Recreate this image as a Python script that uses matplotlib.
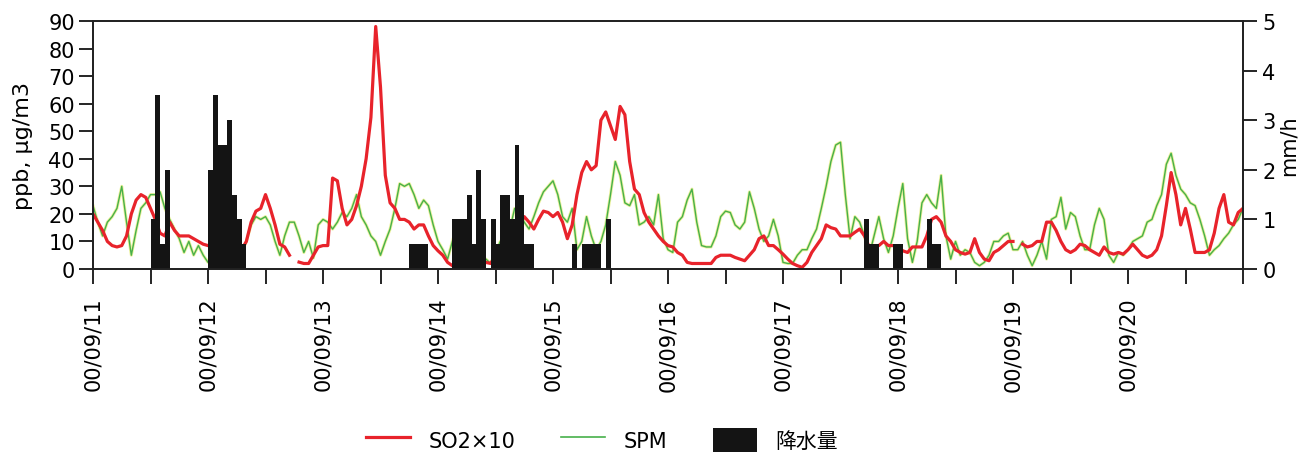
import numpy as np
import matplotlib.pyplot as plt
from matplotlib.lines import Line2D
from matplotlib.patches import Patch

plt.rcParams['font.family'] = ['DejaVu Sans', 'Noto Sans CJK JP']

nan = np.nan

# hourly SO2 (x10, ppb) from 00/09/11 00:00 to 00/09/21 00:00
so2_x10 = [
    20, 17, 14, 10, 8.5, 8, 8.5, 12, 20, 25,
    27, 26, 22, 18, 13, 12, 17, 14, 12, 12,
    12, 11, 10, 9, 8.5, 8, 8, 8, 4, 5,
    6, 7, 10, 17, 21, 22, 27, 22, 16, 9,
    8, 5, nan, 2.5, 2, 2, 5, 8, 8.5, 8.5,
    33, 32, 22, 16, 18, 23, 30, 40, 55, 88,
    66, 34, 24, 22, 18, 18, 17, 14.5, 16, 16,
    12, 8.5, 6.6, 5, 2.4, 1.2, 1.2, 2, 2.4, 3,
    2.4, 1.2, 2.4, 2, 5, 7, 9, 10, 12, 16,
    19, 17, 14.5, 18, 21, 20.5, 19, 20.5, 17, 11,
    16, 27, 35, 39, 36, 37.5, 54, 57, 52, 47,
    59, 56, 39, 29, 27, 20.5, 17, 14.5, 12, 10,
    8.5, 8, 6, 5, 2.4, 2, 2, 2, 2, 2,
    4.2, 5, 5, 5, 4.2, 3.6, 3, 5, 7, 11,
    12, 8.5, 8.5, 7, 5.4, 3.6, 2, 1.2, 0.6, 2.4,
    6, 8.5, 11, 16, 15, 14.5, 12, 12, 12, 13.3,
    14.5, 12, 8, 8.5, 8.5, 10, 8.5, 8.5, 8, 6.6,
    6, 8, 8, 8, 12, 18, 19, 17, 12, 10,
    7, 6, 5.4, 6, 11, 6, 3.6, 3, 6, 7,
    8.5, 10, 10, nan, 9, 8, 8.5, 10, 10, 17,
    17, 14, 10, 7, 6, 7, 9, 8.5, 7, 6,
    5, 8, 6, 5.4, 6, 5.4, 7, 9, 7, 5,
    4.2, 5, 7, 12, 23, 35, 27, 16, 22, 14.5,
    6, 6, 6, 7, 13, 22, 27, 17, 16, 20.5,
    22,
]

# hourly SPM (ug/m3)
spm = [
    23, 17, 12, 17, 19, 22, 30, 17, 5, 14,
    22, 24, 27, 27, 28, 22, 18, 14.5, 11, 6,
    10, 5, 8.5, 5, 2.4, 7, 3, 2, 3, 5,
    4, 6, 10, 16, 19, 18, 19, 16, 10, 5,
    12, 17, 17, 12, 6, 10, 4, 16, 18, 17,
    14.5, 17, 20.5, 19, 22, 27, 19, 16, 12, 10,
    5, 10, 14.5, 22, 31, 30, 31, 27, 22, 25,
    23, 16, 10, 7, 3.6, 10, 16, 10, 5, 2,
    5, 4, 3.6, 2, 6, 10, 11, 14.5, 22, 20.5,
    17, 14.5, 19, 24, 28, 30, 32, 27, 19, 17,
    22, 7, 10, 19, 12, 7, 10, 16, 27, 39,
    34, 24, 23, 27, 16, 17, 19, 16, 27, 11,
    7, 6, 17, 19, 25, 29, 17, 8.5, 8, 8,
    12, 19, 21, 20.5, 16, 14.5, 17, 28, 22, 14.5,
    10, 12, 18, 12, 2.4, 2, 2, 5, 7, 7,
    11, 14.5, 22, 30, 39, 45, 46, 27, 11, 19,
    17, 12, 5, 12, 19, 11, 6, 12, 22, 31,
    11, 2.4, 10, 24, 27, 24, 22, 34, 12, 3.6,
    10, 5, 7, 6, 2.4, 1.2, 2.4, 5, 10, 10,
    12, 13, 7, 7, 10, 5, 1.2, 5, 10, 3.6,
    18, 19, 26, 14.5, 20.5, 19, 12, 7, 7, 16,
    22, 18, 5, 2.4, 6, 5, 7, 10, 11, 12,
    17, 18, 23, 27, 38, 42, 34, 29, 27, 24,
    23, 18, 12, 5, 7, 8.5, 11, 13, 16, 18,
    22,
]

# precipitation (mm/h), only the hours with rain
rain_hour = [12, 13, 14, 15,
             24, 25, 26, 27, 28, 29, 30, 31,
             66, 67, 68, 69,
             75, 76, 77, 78, 79, 80, 81, 83, 84, 85, 86, 87, 88, 89, 90, 91,
             100, 102, 103, 104, 105, 107,
             161, 162, 163, 167, 168, 174, 175, 176]
rain_mm = [1.0, 3.5, 0.5, 2.0,
           2.0, 3.5, 2.5, 2.5, 3.0, 1.5, 1.0, 0.5,
           0.5, 0.5, 0.5, 0.5,
           1.0, 1.0, 1.0, 1.5, 0.5, 2.0, 1.0, 1.0, 0.5, 1.5, 1.5, 1.0, 2.5, 1.5, 0.5, 0.5,
           0.5, 0.5, 0.5, 0.5, 0.5, 1.0,
           1.0, 0.5, 0.5, 0.5, 0.5, 1.0, 0.5, 0.5]

day_labels = ['00/09/11', '00/09/12', '00/09/13', '00/09/14', '00/09/15',
              '00/09/16', '00/09/17', '00/09/18', '00/09/19', '00/09/20']

hours = np.arange(len(so2_x10))

fig = plt.figure(figsize=(13.07, 4.6), dpi=100)
ax = fig.add_axes([93 / 1307, 1 - 270 / 460, 1150 / 1307, 248 / 460])
ax2 = ax.twinx()

red = '#e8232b'
green = '#47b04a'

# lines (yellowish halo under the thin green line)
ax.plot(hours, spm, color='#dfe85a', lw=2.2, alpha=0.6)
ax.plot(hours, spm, color=green, lw=1.0)
ax.plot(hours, so2_x10, color=red, lw=2.3)

ax2.bar(rain_hour, rain_mm, width=1.0, align='edge', color='#141414')

ax.set_xlim(0, 240)
ax.set_ylim(0, 90)
ax2.set_ylim(0, 5)

ax.set_yticks(np.arange(0, 91, 10))
ax2.set_yticks(np.arange(0, 6, 1))
ax.set_xticks(np.arange(0, 217, 24))
ax.set_xticks(np.arange(0, 241, 12), minor=True)
ax.set_xticklabels(day_labels, rotation=90, fontsize=15)

ax.tick_params(axis='y', direction='out', length=10, width=1.2, pad=3, labelsize=15)
ax.tick_params(axis='x', which='both', direction='out', length=11, width=1.2, pad=9)
ax2.tick_params(axis='y', direction='out', length=10, width=1.2, pad=4, labelsize=15)

for a in (ax, ax2):
    for s in a.spines.values():
        s.set_linewidth(1.3)
        s.set_color('#222222')

ax.set_ylabel('ppb, μg/m3', fontsize=16)
ax.yaxis.set_label_coords(-0.052, 0.5)
ax2.set_ylabel('mm/h', fontsize=15)
ax2.yaxis.set_label_coords(1.031, 0.5)

handles = [Line2D([], [], color=red, lw=2.3),
           Line2D([], [], color=green, lw=1.2),
           Patch(facecolor='#141414')]
fig.legend(handles, ['SO2×10', 'SPM', '降水量'], loc='center',
           bbox_to_anchor=(602 / 1307, 1 - 441 / 460), ncol=3, frameon=False,
           fontsize=15, handlelength=2.1, handleheight=1.4, handletextpad=0.9,
           columnspacing=2.2)

fig.savefig('out.png', dpi=100)
